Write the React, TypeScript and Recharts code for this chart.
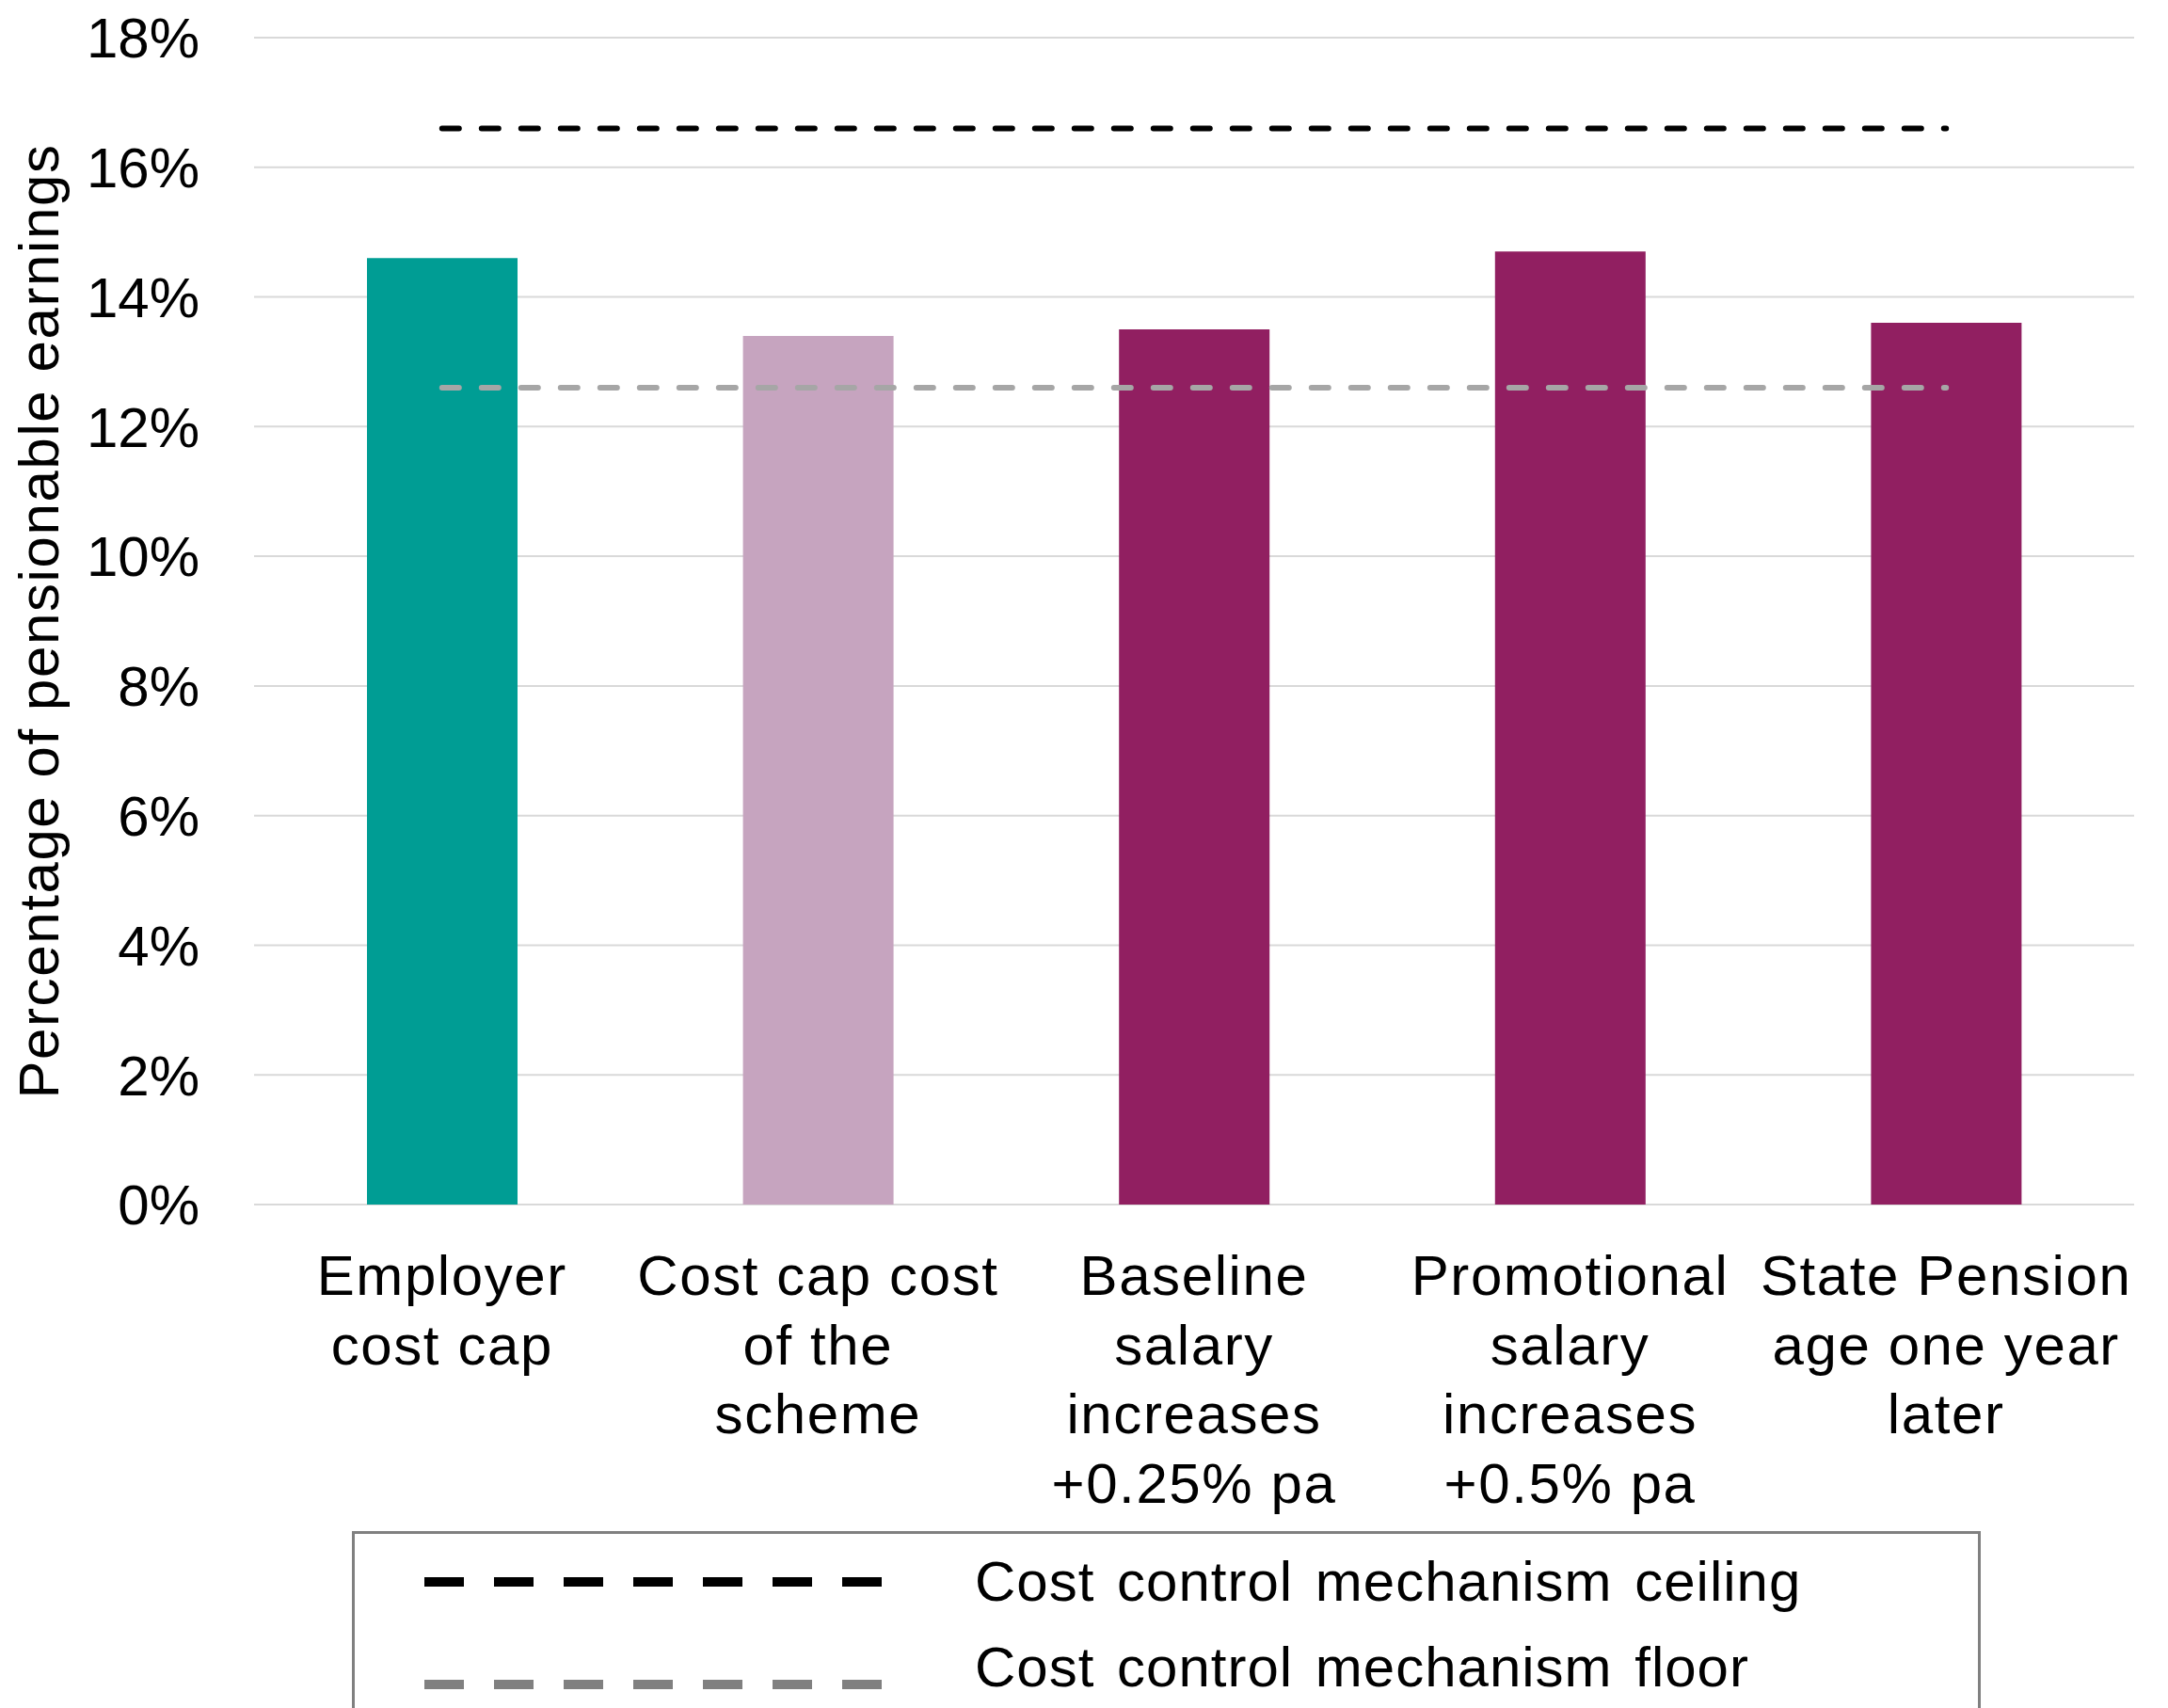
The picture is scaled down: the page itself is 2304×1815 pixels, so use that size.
import React from 'react';
import { ComposedChart, Bar, Line, XAxis, YAxis, CartesianGrid, Cell, Legend } from 'recharts';

const categories = [
  'Employer\ncost cap',
  'Cost cap cost\nof the\nscheme',
  'Baseline\nsalary\nincreases\n+0.25% pa',
  'Promotional\nsalary\nincreases\n+0.5% pa',
  'State Pension\nage one year\nlater',
];
const costValues = [14.6, 13.4, 13.5, 14.7, 13.6];
const ceilingValues = [16.6, 16.6, 16.6, 16.6, 16.6];
const floorValues = [12.6, 12.6, 12.6, 12.6, 12.6];
const barColors = ['#009D94', '#C6A4BF', '#911F61', '#911F61', '#911F61'];
const yTicks = [0, 2, 4, 6, 8, 10, 12, 14, 16, 18];
const yLabel = 'Percentage of pensionable earnings';
const legendItems = [
  { name: 'Cost control mechanism ceiling', color: '#000000' },
  { name: 'Cost control mechanism floor', color: '#808080' },
];

const data = categories.map((c, i) => ({
  category: c,
  cost: costValues[i],
  ceiling: ceilingValues[i],
  floor: floorValues[i],
}));

const FONT = '"Liberation Sans", Arial, Helvetica, sans-serif';

const XTick = (props: any) => {
  const { x, y, payload } = props;
  const lines = String(payload.value).split('\n');
  return (
    <text x={x} y={y} textAnchor="middle" fontFamily={FONT} fontSize={60} fill="#000" letterSpacing={1.6}>
      {lines.map((l: string, i: number) => (
        <tspan key={i} x={x} dy={i === 0 ? 88 : 73.5}>
          {l}
        </tspan>
      ))}
    </text>
  );
};

const YLabel = (props: any) => {
  const vb = props.viewBox || {};
  const cy = (vb.y || 0) + (vb.height || 0) / 2;
  return (
    <text
      x={62}
      y={cy}
      transform={`rotate(-90, 62, ${cy})`}
      textAnchor="middle"
      fontFamily={FONT}
      fontSize={60}
      letterSpacing={1.6}
      fill="#000"
    >
      {yLabel}
    </text>
  );
};

const LegendContent = () => (
  <svg width={1732} height={200} style={{ display: 'block', overflow: 'visible' }}>
    <rect x={1.5} y={1.5} width={1728} height={260} fill="#fff" stroke="#808080" strokeWidth={3} />
    {legendItems.map((it, i) => {
      const cy = i === 0 ? 54 : 163;
      const ty = i === 0 ? 74 : 165;
      return (
        <g key={it.name}>
          <line x1={77} x2={568} y1={cy} y2={cy} stroke={it.color} strokeWidth={10} strokeDasharray="42 32" />
          <text x={662} y={ty} fontFamily={FONT} fontSize={60} fill="#000" wordSpacing={6} letterSpacing={1}>
            {it.name}
          </text>
        </g>
      );
    })}
  </svg>
);

export default function App() {
  return (
    <div style={{ position: 'absolute', left: 0, top: 0, width: 2304, height: 1815, overflow: 'hidden', background: '#fff' }}>
      <ComposedChart
        width={2304}
        height={1815}
        data={data}
        margin={{ top: 40, right: 36, left: 0, bottom: 435 }}
      >
        <CartesianGrid vertical={false} stroke="#D9D9D9" strokeWidth={2} />
        <XAxis
          dataKey="category"
          axisLine={false}
          tickLine={false}
          height={100}
          interval={0}
          tick={<XTick />}
        />
        <YAxis
          domain={[0, 18]}
          ticks={yTicks}
          width={270}
          axisLine={false}
          tickLine={false}
          tickSize={6}
          tickMargin={52}
          tickFormatter={(v: number) => `${v}%`}
          tick={{ fontFamily: FONT, fontSize: 60, fill: '#000' }}
          label={<YLabel />}
        />
        <Bar dataKey="cost" barSize={160} isAnimationActive={false} legendType="none">
          {data.map((d, i) => (
            <Cell key={i} fill={barColors[i]} />
          ))}
        </Bar>
        <Line
          dataKey="ceiling"
          name={legendItems[0].name}
          stroke="#000000"
          strokeWidth={6}
          strokeDasharray="18 24"
          strokeLinecap="round"
          dot={false}
          activeDot={false}
          isAnimationActive={false}
        />
        <Line
          dataKey="floor"
          name={legendItems[1].name}
          stroke="#A6A6A6"
          strokeWidth={6}
          strokeDasharray="18 24"
          strokeLinecap="round"
          dot={false}
          activeDot={false}
          isAnimationActive={false}
        />
        <Legend
          layout="horizontal"
          verticalAlign="middle"
          align="center"
          wrapperStyle={{ left: 374, top: 1627, width: 1732, height: 200 }}
          content={<LegendContent />}
        />
      </ComposedChart>
    </div>
  );
}
